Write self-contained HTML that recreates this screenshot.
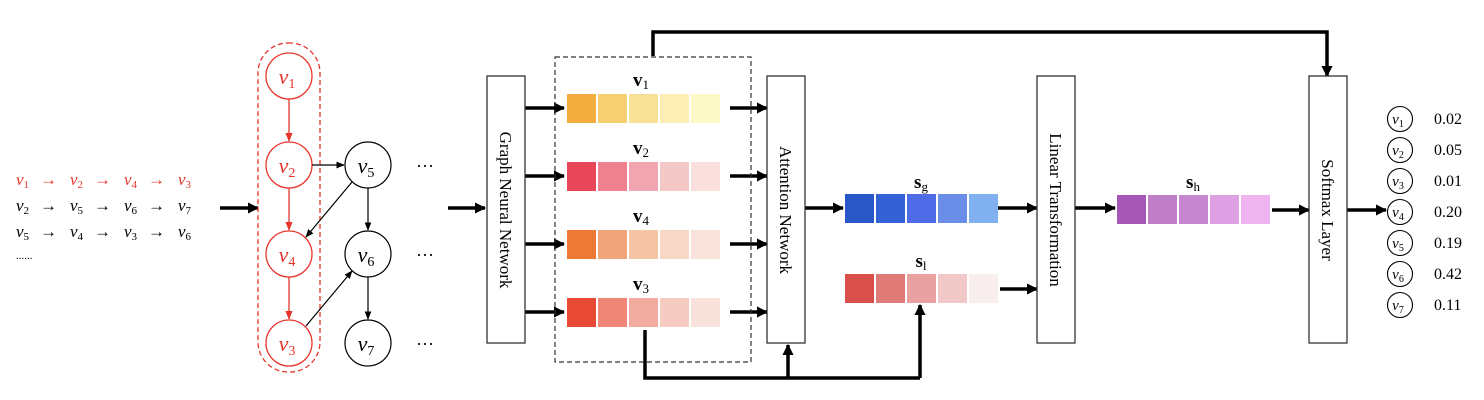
<!DOCTYPE html>
<html><head><meta charset="utf-8"><style>body{margin:0;background:#fff}svg{display:block}text{font-family:"Liberation Serif",serif}</style></head>
<body>
<svg width="1484" height="400" viewBox="0 0 1484 400" xmlns="http://www.w3.org/2000/svg">
<defs>
<marker id="ab" viewBox="0 0 10 10" refX="9" refY="5" markerWidth="3.2" markerHeight="3.2" orient="auto"><path d="M0,0L10,5L0,10z" fill="#000"/></marker>
<marker id="as" viewBox="0 0 10 10" refX="9" refY="5" markerWidth="7" markerHeight="7" orient="auto"><path d="M0,1L10,5L0,9z" fill="#000"/></marker>
<marker id="ar" viewBox="0 0 10 10" refX="9" refY="5" markerWidth="7" markerHeight="7" orient="auto"><path d="M0,1L10,5L0,9z" fill="#e8352c"/></marker>
</defs>
<!-- sequences -->
<g font-size="17">
<g fill="#e8352c">
<text x="16" y="185"><tspan font-style="italic">v</tspan><tspan font-size="11" dy="3">1</tspan></text>
<text x="70" y="185"><tspan font-style="italic">v</tspan><tspan font-size="11" dy="3">2</tspan></text>
<text x="124" y="185"><tspan font-style="italic">v</tspan><tspan font-size="11" dy="3">4</tspan></text>
<text x="178" y="185"><tspan font-style="italic">v</tspan><tspan font-size="11" dy="3">3</tspan></text>
<text x="40" y="185">→</text><text x="94" y="185">→</text><text x="148" y="185">→</text>
</g>
<text x="16" y="211"><tspan font-style="italic">v</tspan><tspan font-size="11" dy="3">2</tspan></text>
<text x="70" y="211"><tspan font-style="italic">v</tspan><tspan font-size="11" dy="3">5</tspan></text>
<text x="124" y="211"><tspan font-style="italic">v</tspan><tspan font-size="11" dy="3">6</tspan></text>
<text x="178" y="211"><tspan font-style="italic">v</tspan><tspan font-size="11" dy="3">7</tspan></text>
<text x="40" y="211">→</text><text x="94" y="211">→</text><text x="148" y="211">→</text>
<text x="16" y="237"><tspan font-style="italic">v</tspan><tspan font-size="11" dy="3">5</tspan></text>
<text x="70" y="237"><tspan font-style="italic">v</tspan><tspan font-size="11" dy="3">4</tspan></text>
<text x="124" y="237"><tspan font-style="italic">v</tspan><tspan font-size="11" dy="3">3</tspan></text>
<text x="178" y="237"><tspan font-style="italic">v</tspan><tspan font-size="11" dy="3">6</tspan></text>
<text x="40" y="237">→</text><text x="94" y="237">→</text><text x="148" y="237">→</text>
</g>
<text x="16" y="259" font-size="11">......</text>
<!-- big arrows -->
<g stroke="#000" stroke-width="3.5" fill="none" marker-end="url(#ab)">
<line x1="220" y1="208" x2="258" y2="208"/>
<line x1="448" y1="208" x2="485" y2="208"/>
<line x1="525" y1="108" x2="564" y2="108"/><line x1="525" y1="176" x2="564" y2="176"/>
<line x1="525" y1="244" x2="564" y2="244"/><line x1="525" y1="312" x2="564" y2="312"/>
<line x1="730" y1="108" x2="767" y2="108"/><line x1="730" y1="176" x2="767" y2="176"/>
<line x1="730" y1="244" x2="767" y2="244"/><line x1="730" y1="312" x2="767" y2="312"/>
<line x1="805" y1="208" x2="843" y2="208"/>
<line x1="997" y1="208" x2="1037" y2="208"/>
<line x1="1000" y1="289" x2="1037" y2="289"/>
<line x1="1075" y1="208" x2="1115" y2="208"/>
<line x1="1272" y1="210" x2="1309" y2="210"/>
<line x1="1347" y1="210" x2="1386" y2="210"/>
<polyline points="653,56 653,32 1327,32 1327,76"/>
<polyline points="788,378 788,345"/>
<polyline points="920,378 920,305"/>
</g>
<polyline points="645,330 645,378 920,378" stroke="#000" stroke-width="3.5" fill="none"/>
<!-- graph -->
<rect x="258" y="43" width="62" height="329" rx="30" fill="none" stroke="#e8352c" stroke-width="1.3" stroke-dasharray="5,3"/>
<g stroke="#e8352c" stroke-width="1.3" fill="#fff">
<circle cx="289" cy="76" r="23"/><circle cx="289" cy="165" r="23"/><circle cx="289" cy="254" r="23"/><circle cx="289" cy="343" r="23"/>
</g>
<g stroke="#e8352c" stroke-width="1.3" marker-end="url(#ar)">
<line x1="289" y1="99" x2="289" y2="141"/><line x1="289" y1="188" x2="289" y2="230"/><line x1="289" y1="277" x2="289" y2="319"/>
</g>
<g stroke="#000" stroke-width="1.2" fill="#fff">
<circle cx="368" cy="165" r="23"/><circle cx="368" cy="254" r="23"/><circle cx="368" cy="343" r="23"/>
</g>
<g stroke="#000" stroke-width="1.2" marker-end="url(#as)">
<line x1="312" y1="165" x2="344" y2="165"/>
<line x1="368" y1="188" x2="368" y2="230"/><line x1="368" y1="277" x2="368" y2="319"/>
<line x1="352" y1="182" x2="306" y2="237"/>
<line x1="306" y1="326" x2="352" y2="271"/>
</g>
<g font-size="22" font-style="italic" text-anchor="middle">
<g fill="#e8352c"><text x="287" y="84">v<tspan font-size="14" font-style="normal" dy="4">1</tspan></text><text x="287" y="173">v<tspan font-size="14" font-style="normal" dy="4">2</tspan></text><text x="287" y="262">v<tspan font-size="14" font-style="normal" dy="4">4</tspan></text><text x="287" y="351">v<tspan font-size="14" font-style="normal" dy="4">3</tspan></text></g>
<text x="366" y="173">v<tspan font-size="14" font-style="normal" dy="4">5</tspan></text><text x="366" y="262">v<tspan font-size="14" font-style="normal" dy="4">6</tspan></text><text x="366" y="351">v<tspan font-size="14" font-style="normal" dy="4">7</tspan></text>
</g>
<g font-size="18"><text x="416" y="172">···</text><text x="416" y="261">···</text><text x="416" y="350">···</text></g>
<!-- boxes -->
<g stroke="#333" stroke-width="1.3" fill="#fff">
<rect x="487" y="76" width="38" height="267"/><rect x="767" y="76" width="38" height="267"/>
<rect x="1037" y="76" width="38" height="267"/><rect x="1309" y="76" width="38" height="267"/>
</g>
<rect x="555" y="57" width="196" height="305" fill="none" stroke="#333" stroke-width="1.2" stroke-dasharray="5,3"/>
<g font-size="17" text-anchor="middle">
<text transform="translate(500,210) rotate(90)">Graph Neural Network</text>
<text transform="translate(780,210) rotate(90)">Attention Network</text>
<text transform="translate(1050,210) rotate(90)">Linear Transformation</text>
<text transform="translate(1322,210) rotate(90)">Softmax Layer</text>
</g>
<!-- bars -->
<g>
<rect x="567" y="94" width="29" height="29" fill="#f3ad3e"/><rect x="598" y="94" width="29" height="29" fill="#f6cf70"/><rect x="629" y="94" width="29" height="29" fill="#f8e095"/><rect x="660" y="94" width="29" height="29" fill="#fbefb5"/><rect x="691" y="94" width="29" height="29" fill="#fdf8c8"/>
<rect x="567" y="162" width="29" height="29" fill="#e8475a"/><rect x="598" y="162" width="29" height="29" fill="#ee8090"/><rect x="629" y="162" width="29" height="29" fill="#f0a5b0"/><rect x="660" y="162" width="29" height="29" fill="#f5c8c8"/><rect x="691" y="162" width="29" height="29" fill="#f9e0dc"/>
<rect x="567" y="230" width="29" height="29" fill="#ec7a35"/><rect x="598" y="230" width="29" height="29" fill="#f1a47a"/><rect x="629" y="230" width="29" height="29" fill="#f4c4a4"/><rect x="660" y="230" width="29" height="29" fill="#f7d8c6"/><rect x="691" y="230" width="29" height="29" fill="#f9e4dc"/>
<rect x="567" y="298" width="29" height="29" fill="#e94a35"/><rect x="598" y="298" width="29" height="29" fill="#ef8676"/><rect x="629" y="298" width="29" height="29" fill="#f2ab9f"/><rect x="660" y="298" width="29" height="29" fill="#f6cbc2"/><rect x="691" y="298" width="29" height="29" fill="#f9e2dc"/>
<rect x="845" y="194" width="29" height="29" fill="#2a57c8"/><rect x="876" y="194" width="29" height="29" fill="#3462d6"/><rect x="907" y="194" width="29" height="29" fill="#4f6be8"/><rect x="938" y="194" width="29" height="29" fill="#6a8de8"/><rect x="969" y="194" width="29" height="29" fill="#80b0f0"/>
<rect x="845" y="274" width="29" height="29" fill="#d94f4a"/><rect x="876" y="274" width="29" height="29" fill="#e07a77"/><rect x="907" y="274" width="29" height="29" fill="#e8a0a0"/><rect x="938" y="274" width="29" height="29" fill="#f0c8c8"/><rect x="969" y="274" width="29" height="29" fill="#f8eeee"/>
<rect x="1117" y="195" width="29" height="29" fill="#a658b6"/><rect x="1148" y="195" width="29" height="29" fill="#c07ec8"/><rect x="1179" y="195" width="29" height="29" fill="#c686d0"/><rect x="1210" y="195" width="29" height="29" fill="#dea0e2"/><rect x="1241" y="195" width="29" height="29" fill="#eeb4f0"/>
</g>
<g font-size="19" font-weight="bold" text-anchor="middle">
<text x="641" y="86">v<tspan font-size="13" font-weight="normal" dy="3">1</tspan></text>
<text x="641" y="154">v<tspan font-size="13" font-weight="normal" dy="3">2</tspan></text>
<text x="641" y="222">v<tspan font-size="13" font-weight="normal" dy="3">4</tspan></text>
<text x="641" y="290">v<tspan font-size="13" font-weight="normal" dy="3">3</tspan></text>
<text x="921" y="188">s<tspan font-size="13" font-weight="normal" dy="3">g</tspan></text>
<text x="921" y="267">s<tspan font-size="13" font-weight="normal" dy="3">l</tspan></text>
<text x="1193" y="188">s<tspan font-size="13" font-weight="normal" dy="3">h</tspan></text>
</g>
<!-- outputs -->
<g stroke="#000" stroke-width="1.1" fill="none">
<circle cx="1400" cy="119" r="12.5"/><circle cx="1400" cy="150" r="12.5"/><circle cx="1400" cy="181" r="12.5"/><circle cx="1400" cy="212" r="12.5"/><circle cx="1400" cy="243" r="12.5"/><circle cx="1400" cy="274" r="12.5"/><circle cx="1400" cy="305" r="12.5"/>
</g>
<g font-size="15" font-style="italic" text-anchor="middle">
<text x="1398" y="124">v<tspan font-size="10" font-style="normal" dy="3">1</tspan></text>
<text x="1398" y="155">v<tspan font-size="10" font-style="normal" dy="3">2</tspan></text>
<text x="1398" y="186">v<tspan font-size="10" font-style="normal" dy="3">3</tspan></text>
<text x="1398" y="217">v<tspan font-size="10" font-style="normal" dy="3">4</tspan></text>
<text x="1398" y="248">v<tspan font-size="10" font-style="normal" dy="3">5</tspan></text>
<text x="1398" y="279">v<tspan font-size="10" font-style="normal" dy="3">6</tspan></text>
<text x="1398" y="310">v<tspan font-size="10" font-style="normal" dy="3">7</tspan></text>
</g>
<g font-size="16">
<text x="1434" y="124">0.02</text><text x="1434" y="155">0.05</text><text x="1434" y="186">0.01</text><text x="1434" y="217">0.20</text><text x="1434" y="248">0.19</text><text x="1434" y="279">0.42</text><text x="1434" y="310">0.11</text>
</g>
</svg>
</body></html>
